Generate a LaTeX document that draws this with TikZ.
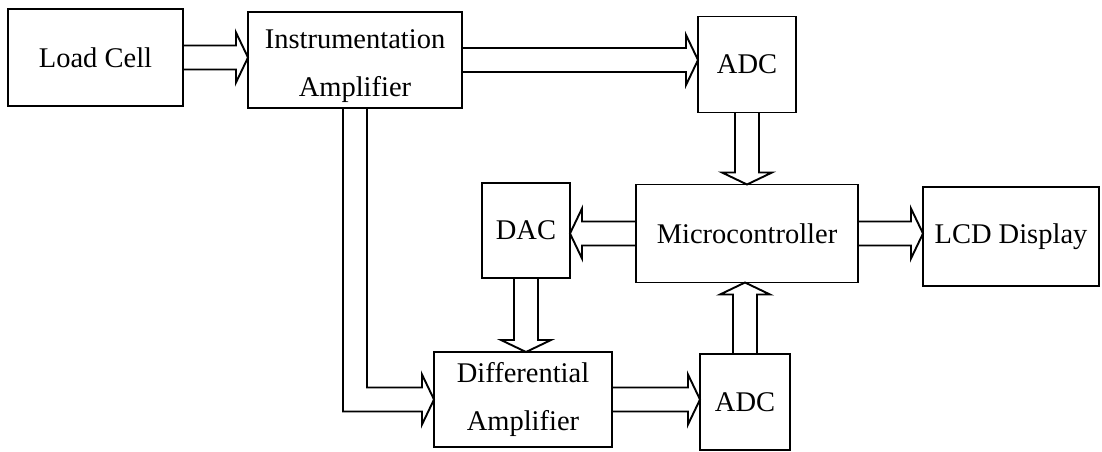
\documentclass[tikz,border=0pt]{standalone}
\usepackage{fontspec}
\setmainfont{Liberation Serif}
\usepackage{tikz}
\usetikzlibrary{calc,positioning}

\begin{document}
\begin{tikzpicture}[
    x=1pt, y=-1pt,
    every node/.style={font=\fontsize{28.5}{48}\selectfont},
    blockbox/.style={draw=black, line width=1.9pt, align=center, inner sep=0pt, outer sep=0pt},
    blockarrow/.style={draw=black, line width=1.9pt,
        to path={let \p1=(\tikztostart), \p2=(\tikztotarget),
                     \n1={veclen(\x2-\x1,\y2-\y1)},
                     \n2={(\x2-\x1)/\n1}, \n3={(\y2-\y1)/\n1} in
                 ({\x1-\n3*12pt},{\y1+\n2*12pt})
              -- ({\x2-\n2*12pt-\n3*12pt},{\y2-\n3*12pt+\n2*12pt})
              -- ({\x2-\n2*12pt-\n3*25pt},{\y2-\n3*12pt+\n2*25pt})
              -- (\tikztotarget)
              -- ({\x2-\n2*12pt+\n3*25pt},{\y2-\n3*12pt-\n2*25pt})
              -- ({\x2-\n2*12pt+\n3*12pt},{\y2-\n3*12pt-\n2*12pt})
              -- ({\x1+\n3*12pt},{\y1-\n2*12pt})}},
]
\useasboundingbox (0,0) rectangle (1102,452);

% Top row
\node[blockbox, minimum width=175pt, minimum height=97pt] (lc) at (95.5,57.5) {Load Cell};
\node[blockbox, minimum width=214pt, minimum height=96pt] (ia) [right=65pt of lc, yshift=-2.5pt]
    {\rule{0pt}{31pt}Instrumentation\\Amplifier};
\node[blockbox, minimum width=98pt, minimum height=96pt] (adc1) [right=236pt of ia, yshift=-4.5pt] {ADC};

% Middle row
\node[blockbox, minimum width=222pt, minimum height=98pt] (micro) [below=72pt of adc1] {Microcontroller};
\node[blockbox, minimum width=88pt, minimum height=95pt] (dac) [left=66pt of micro, yshift=3pt] {DAC};
\node[blockbox, minimum width=176pt, minimum height=99pt] (lcd) [right=65pt of micro, yshift=-3pt] {LCD Display};

% Bottom row
\node[blockbox, minimum width=178pt, minimum height=95pt] (diff) [below=74pt of dac, xshift=-3pt] {Differential\\Amplifier};
\node[blockbox, minimum width=90pt, minimum height=96pt] (adc2) [right=88pt of diff, yshift=-2.5pt] {ADC};

% Straight block arrows
\draw[blockarrow] (lc.east)    to (lc.east -| ia.west);
\draw[blockarrow] (ia.east)    to (ia.east -| adc1.west);
\draw[blockarrow] (adc1.south) to (adc1.south |- micro.north);
\draw[blockarrow] (micro.west) to (micro.west -| dac.east);
\draw[blockarrow] (dac.south)  to (dac.south |- diff.north);
\draw[blockarrow] (diff.east)  to (diff.east -| adc2.west);
\draw[blockarrow] (adc2.north) to (adc2.north |- micro.south);
\draw[blockarrow] (micro.east) to (micro.east -| lcd.west);

% Bent arrow from the instrumentation amplifier to the differential amplifier
\draw[draw=black, line width=1.9pt]
    let \p1=(ia.south), \p2=(diff.west) in
    (\x1-12pt,\y1) -- (\x1-12pt,\y2-12pt) -- (\x2-12pt,\y2-12pt)
    -- (\x2-12pt,\y2-25pt) -- (diff.west) -- (\x2-12pt,\y2+25pt)
    -- (\x2-12pt,\y2+12pt) -- (\x1+12pt,\y2+12pt) -- (\x1+12pt,\y1);
\end{tikzpicture}
\end{document}
